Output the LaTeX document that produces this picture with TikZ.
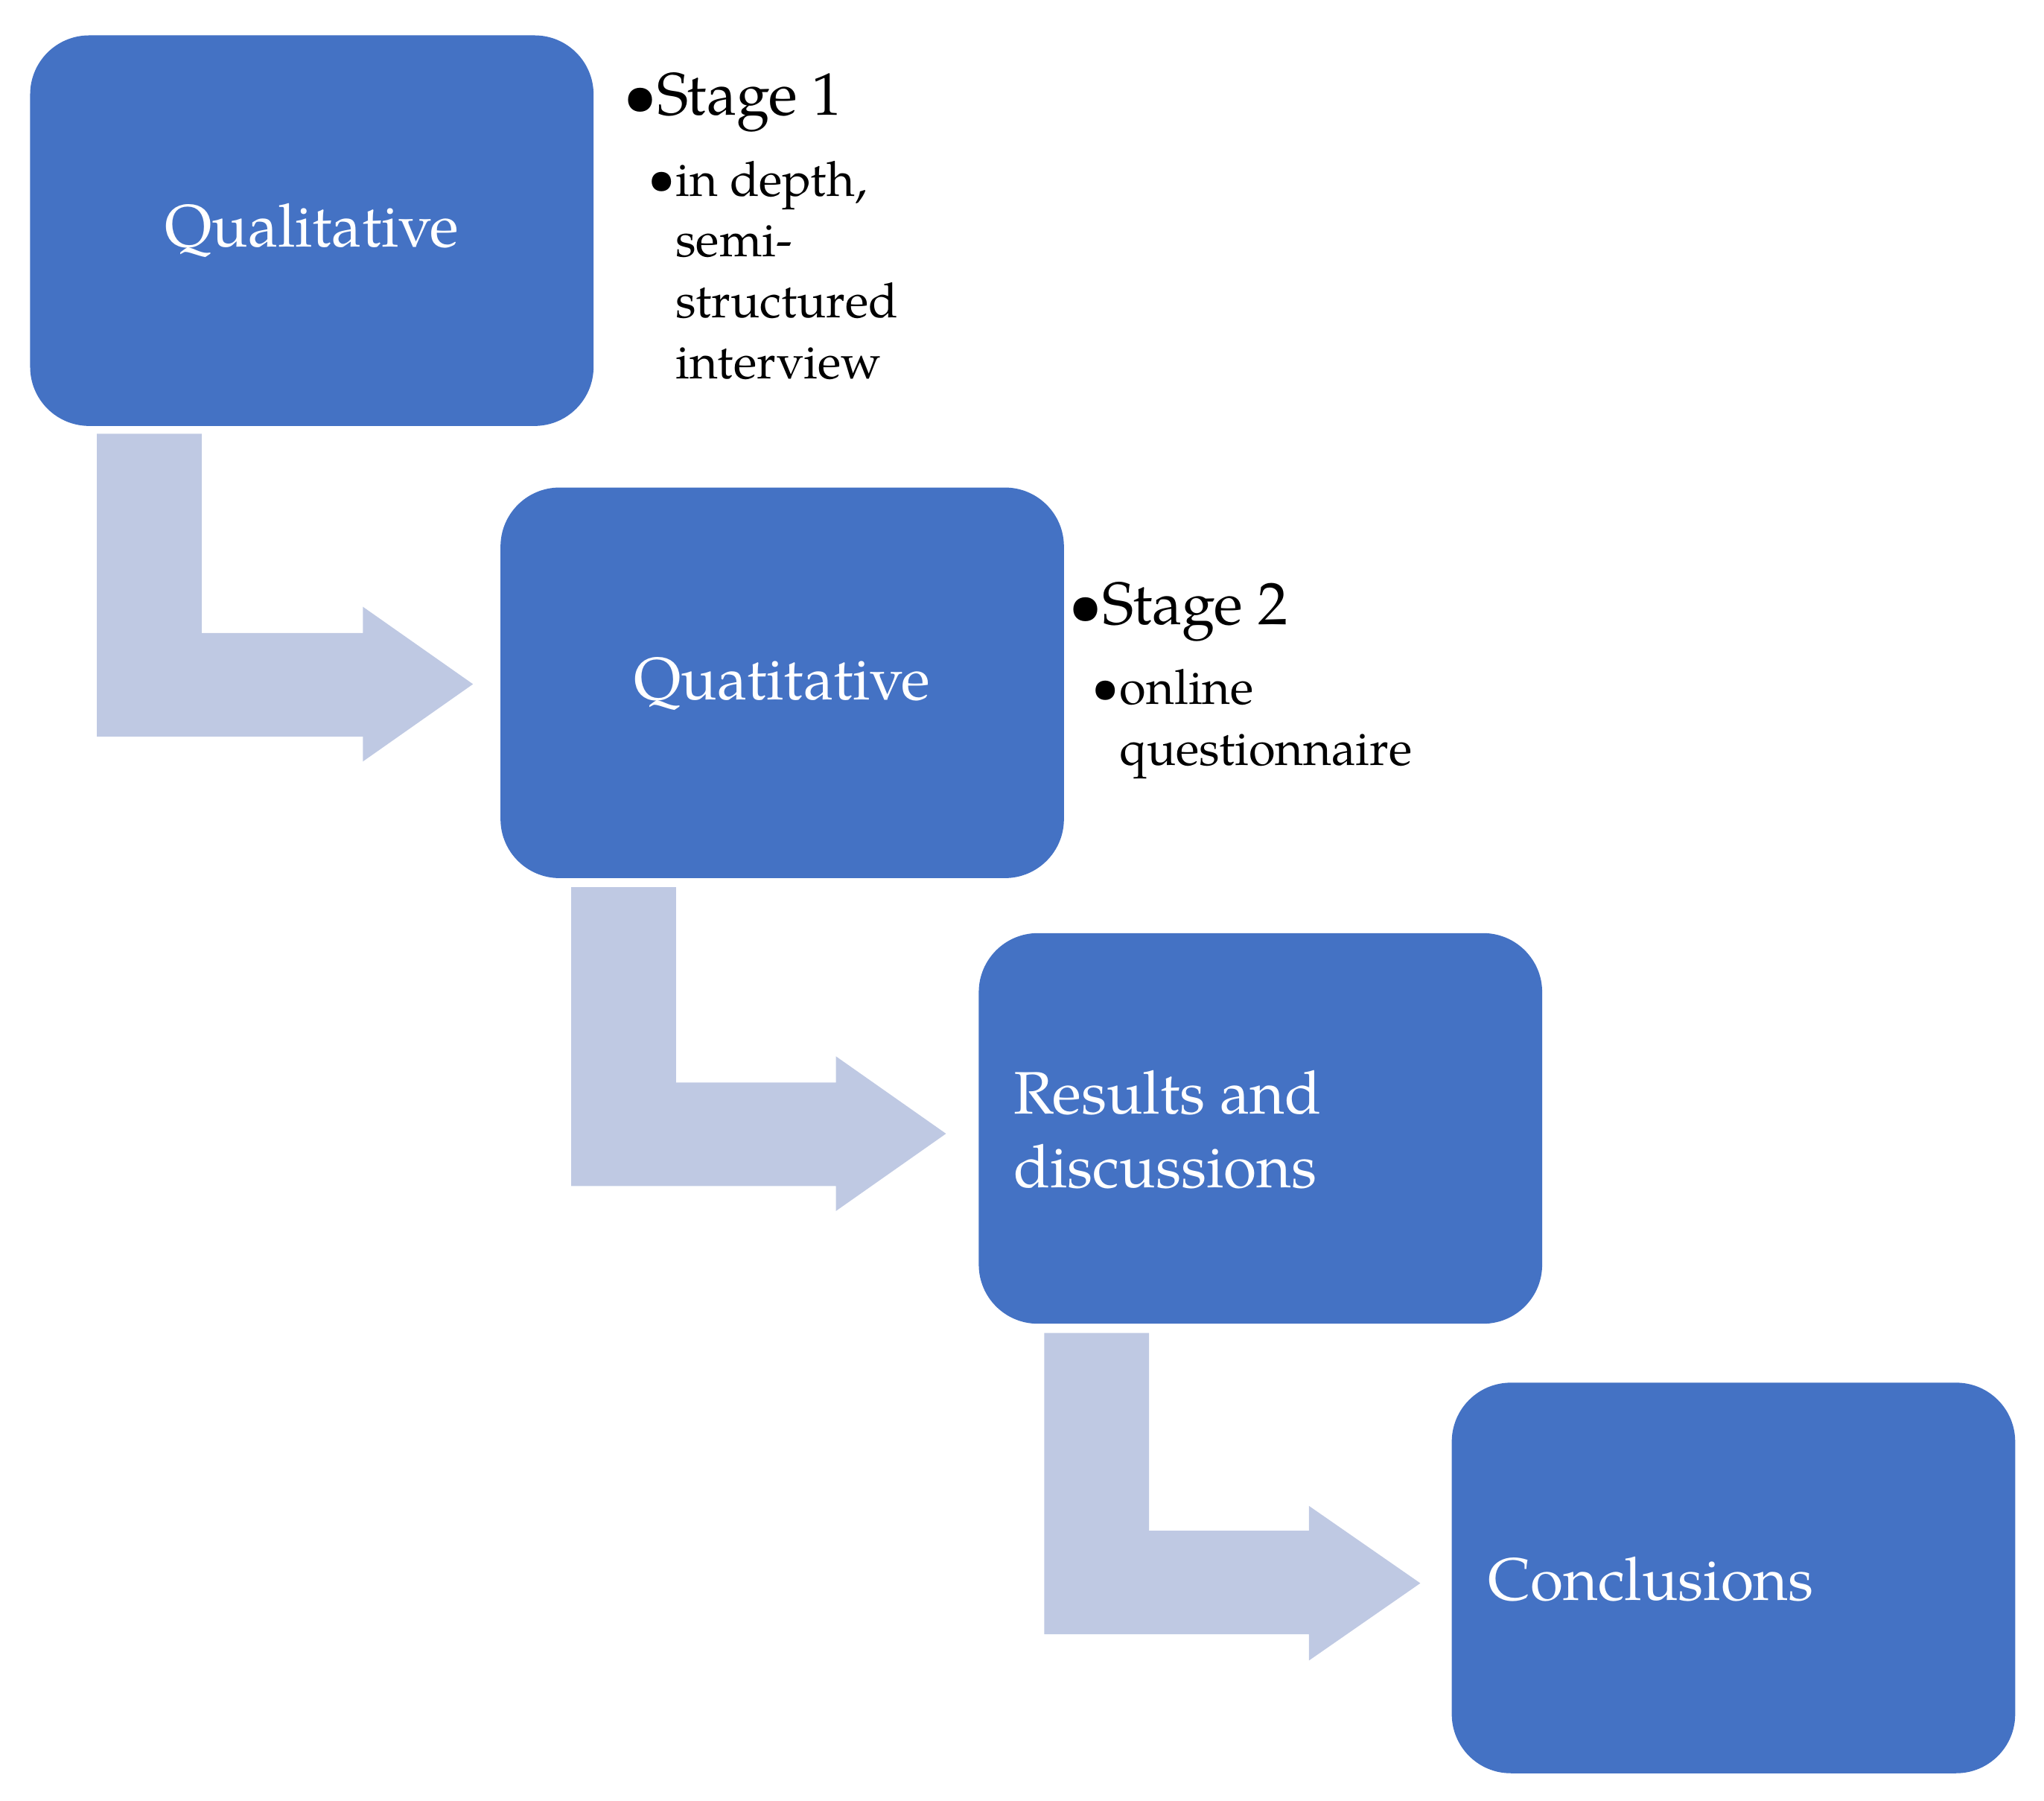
\documentclass[tikz,border=0pt]{standalone}
\usepackage{fontspec}
\setmainfont{TeX Gyre Pagella}
\begin{document}
\begin{tikzpicture}[x=0.01cm,y=-0.01cm,
 box/.style={fill=boxc,rounded corners=0.45cm},
 arr/.style={fill=arrc},
 bt/.style={text=white,font=\fontsize{13pt}{16pt}\selectfont},
 st/.style={anchor=west,font=\fontsize{13pt}{15pt}\selectfont,inner sep=0},
 sub/.style={anchor=north west,align=left,font=\fontsize{10.5pt}{13.2pt}\selectfont,inner sep=0}]
\definecolor{boxc}{HTML}{4472C4}
\definecolor{arrc}{HTML}{BFC9E3}
\useasboundingbox (0,0) rectangle (1560,1374);
\fill[arr] (74,331)--(154,331)--(154,483)--(277,483)--(277,463)--(361,522)--(277,581)--(277,562)--(74,562)--cycle;
\fill[arr] (436,677)--(516,677)--(516,826)--(638,826)--(638,806)--(722,865)--(638,924)--(638,905)--(436,905)--cycle;
\fill[arr] (797,1017)--(877,1017)--(877,1168)--(999,1168)--(999,1149)--(1084,1208)--(999,1267)--(999,1247)--(797,1247)--cycle;
\fill[box] (23,27) rectangle (453,325);
\fill[box] (382,372) rectangle (812,670);
\fill[box] (747,712) rectangle (1177,1010);
\fill[box] (1108,1055) rectangle (1538,1353);
\node[bt] (q1) at (238,176) {Qualitative};
\node[bt] (q2) at (597,522) {Quatitative};
\node[bt,anchor=west,align=left,inner sep=0] (r) at (773,862) {Results and\\discussions};
\node[bt,anchor=west,inner sep=0] (c) at (1135,1205) {Conclusions};
\node[st] (s1) at (475,78) {\textbullet Stage 1};
\node[font=\fontsize{10.5pt}{12pt}\selectfont,inner sep=0] (b1) at (505,140) {\textbullet};
\node[sub] (t1) at (515,122) {in depth,\\semi-\\structured\\interview};
\node[st] (s2) at (815,467) {\textbullet Stage 2};
\node[font=\fontsize{10.5pt}{12pt}\selectfont,inner sep=0] (b2) at (844,528) {\textbullet};
\node[sub] (t2) at (854,510) {online\\questionnaire};
\end{tikzpicture}
\end{document}
